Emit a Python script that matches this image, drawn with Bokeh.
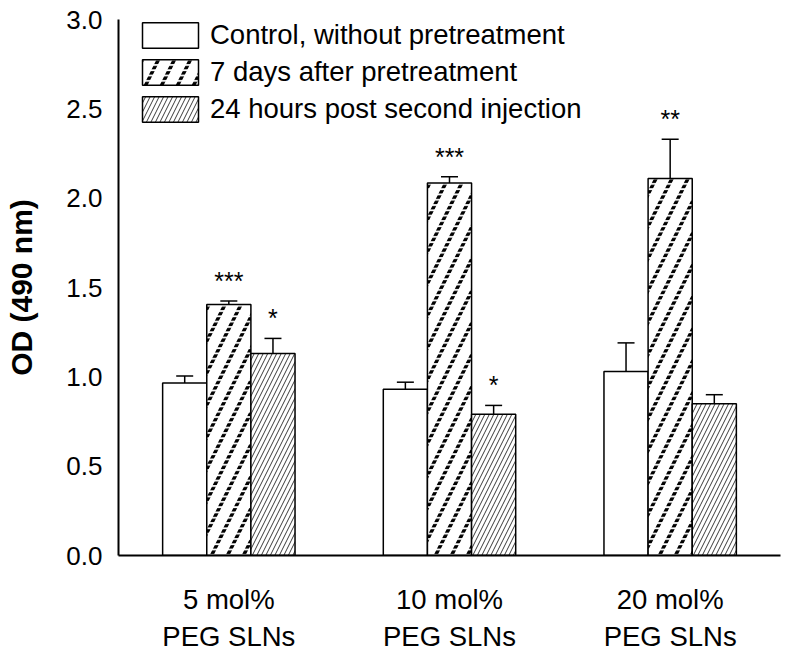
from bokeh.plotting import figure
from bokeh.models import (ColumnDataSource, FactorRange, Range1d, Whisker, TeeHead,
                          Legend, LegendItem, FixedTicker, NumeralTickFormatter)
from bokeh.transform import dodge
from bokeh.core.properties import value
from bokeh.embed import file_html
from bokeh.resources import INLINE

# ---- data ----
groups = ["5 mol%\nPEG SLNs", "10 mol%\nPEG SLNs", "20 mol%\nPEG SLNs"]
series = ["Control, without pretreatment", "7 days after pretreatment",
          "24 hours post second injection"]
control = [0.965, 0.93, 1.03]
control_err = [0.04, 0.04, 0.16]
days7 = [1.405, 2.085, 2.11]
days7_err = [0.02, 0.035, 0.22]
hours24 = [1.13, 0.79, 0.85]
hours24_err = [0.085, 0.05, 0.05]
control_sig = ["", "", ""]
days7_sig = ["***", "***", "**"]
hours24_sig = ["*", "*", ""]
y_ticks = [0.0, 0.5, 1.0, 1.5, 2.0, 2.5, 3.0]

FONT = "Liberation Sans"


def make_src(vals, errs, sig):
    return ColumnDataSource(dict(x=groups, y=vals,
                                 upper=[v + e for v, e in zip(vals, errs)],
                                 sig=sig))


src_c = make_src(control, control_err, control_sig)
src_7 = make_src(days7, days7_err, days7_sig)
src_24 = make_src(hours24, hours24_err, hours24_sig)

p = figure(x_range=FactorRange(*groups, range_padding=0), y_range=Range1d(0, 3),
           width=784, height=654, output_backend="svg", toolbar_location=None,
           min_border_left=118, min_border_right=4, min_border_top=19,
           min_border_bottom=86)
p.xgrid.visible = False
p.ygrid.visible = False
p.outline_line_color = None
p.background_fill_color = "white"

offs = {"c": -0.2, "7": 0.0, "24": 0.2}
W = 0.2

r_c = p.vbar(x=dodge("x", offs["c"], range=p.x_range), top="y", width=W, source=src_c,
             fill_color="white", line_color="black", line_width=1.5)
# 7 days: bold diagonal stripes, cut into dots by a white horizontal hatch
r_7a = p.vbar(x=dodge("x", offs["7"], range=p.x_range), top="y", width=W, source=src_7,
              fill_color="white", line_color=None,
              hatch_pattern="/", hatch_color="black", hatch_scale=32, hatch_weight=3.5)
r_7b = p.vbar(x=dodge("x", offs["7"], range=p.x_range), top="y", width=W, source=src_7,
              fill_color=None, line_color="black", line_width=1.5,
              hatch_pattern="-", hatch_color="white", hatch_scale=5.3, hatch_weight=1.8)
r_24 = p.vbar(x=dodge("x", offs["24"], range=p.x_range), top="y", width=W, source=src_24,
              fill_color="white", line_color="black", line_width=1.5,
              hatch_pattern="/", hatch_color="#222222", hatch_scale=9, hatch_weight=0.9)

for key, src in (("c", src_c), ("7", src_7), ("24", src_24)):
    w = Whisker(source=src, base=dodge("x", offs[key], range=p.x_range),
                lower="y", upper="upper", dimension="height",
                line_color="black", line_width=1.5,
                upper_head=TeeHead(size=17, line_color="black", line_width=1.5),
                lower_head=None)
    p.add_layout(w)
    p.text(x=dodge("x", offs[key], range=p.x_range), y="upper", text="sig", source=src,
           text_align="center", text_baseline="alphabetic", y_offset=-20,
           text_font=value(FONT), text_font_size="25px", text_color="black")

# axes
p.yaxis.ticker = FixedTicker(ticks=y_ticks)
p.yaxis.formatter = NumeralTickFormatter(format="0.0")
p.yaxis.major_label_text_font = FONT
p.yaxis.major_label_text_font_size = "26px"
p.yaxis.major_label_text_color = "black"
p.yaxis.major_tick_out = 10
p.yaxis.major_tick_in = 0
p.yaxis.minor_tick_line_color = None
p.yaxis.major_label_standoff = 6
p.yaxis.axis_label = "OD (490 nm)"
p.yaxis.axis_label_text_font = FONT
p.yaxis.axis_label_text_font_style = "bold"
p.yaxis.axis_label_text_font_size = "30px"
p.yaxis.axis_label_text_color = "black"
p.yaxis.axis_label_standoff = 25

p.xaxis.major_tick_out = 0
p.xaxis.major_tick_in = 0
p.xaxis.major_label_standoff = 28
p.xaxis.major_label_text_font = FONT
p.xaxis.major_label_text_font_size = "27.5px"
p.xaxis.major_label_text_color = "black"

for ax in (p.xaxis, p.yaxis):
    ax.axis_line_color = "black"
    ax.axis_line_width = 2
    ax.major_tick_line_color = "black" if ax is p.yaxis else None
    ax.major_tick_line_width = 1.5

legend = Legend(items=[LegendItem(label=series[0], renderers=[r_c]),
                       LegendItem(label=series[1], renderers=[r_7a, r_7b]),
                       LegendItem(label=series[2], renderers=[r_24])],
                location=(17, 430), glyph_width=70, glyph_height=32, label_height=30,
                label_standoff=5, spacing=5, padding=0, margin=0,
                label_text_font=FONT, label_text_font_size="27.5px",
                label_text_color="black",
                border_line_color=None, background_fill_alpha=0)
p.add_layout(legend)

open("out.html", "w").write(file_html(p, INLINE))
